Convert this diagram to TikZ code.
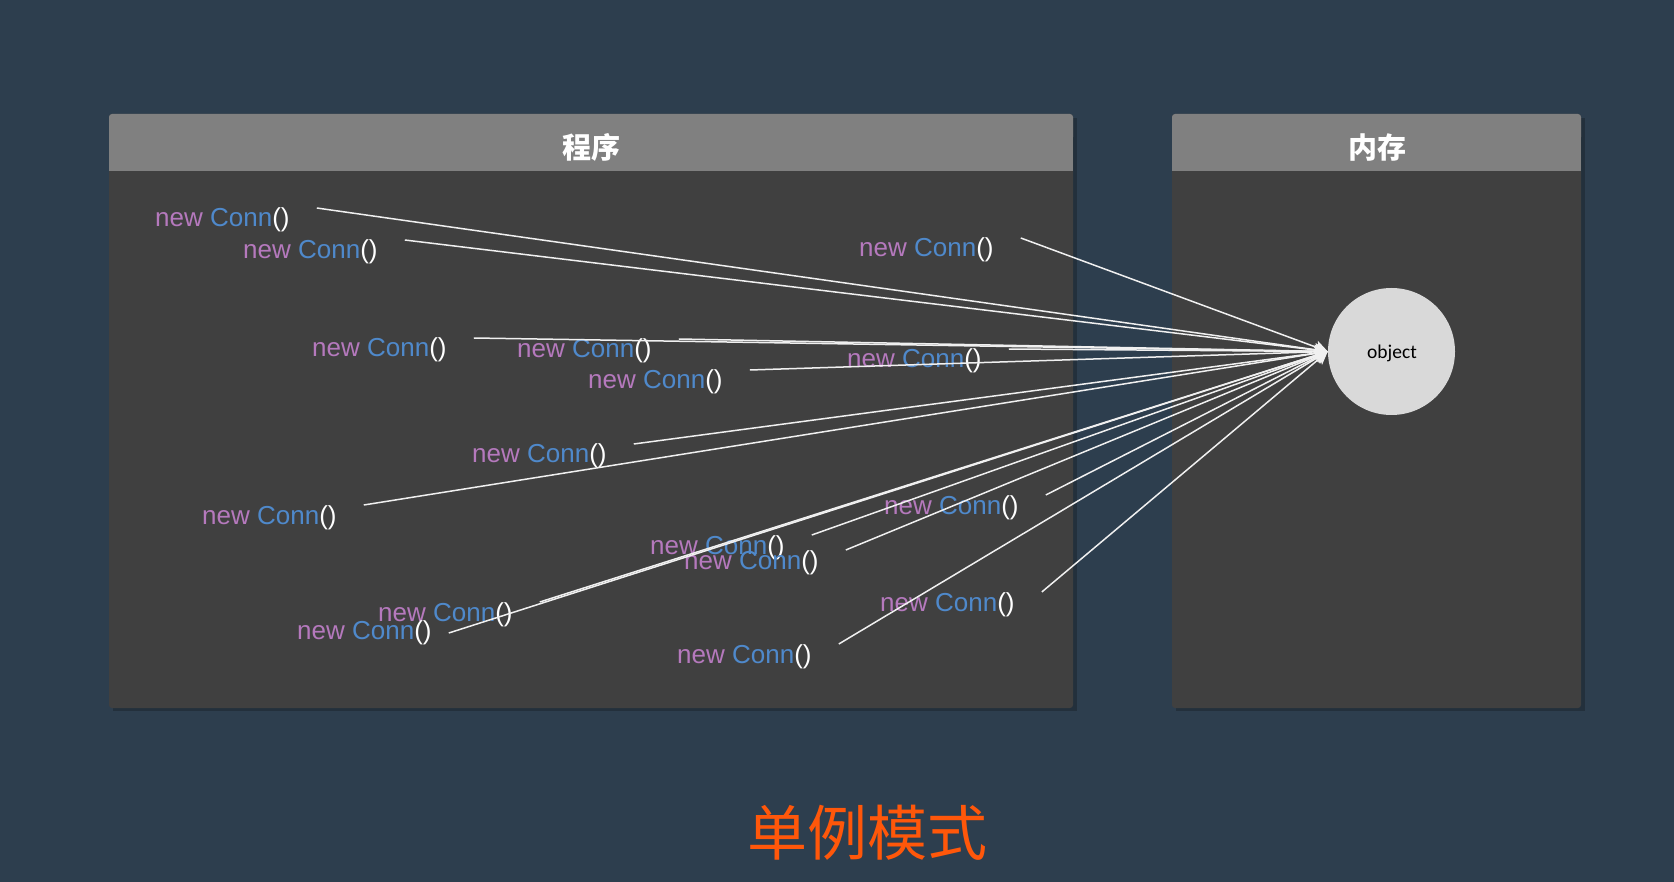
\documentclass[tikz,border=0pt]{standalone}
\usepackage{fontspec}
\setmainfont{Liberation Sans}
\newfontfamily\cjkfont{Noto Sans CJK SC}
\newfontfamily\objfont{Carlito}
\usetikzlibrary{arrows.meta}
\definecolor{bgc}{RGB}{45,62,78}
\definecolor{bodyc}{RGB}{64,64,64}
\definecolor{headc}{RGB}{128,128,128}
\definecolor{newc}{RGB}{181,121,189}
\definecolor{connc}{RGB}{79,137,203}
\definecolor{linec}{RGB}{240,240,240}
\definecolor{objc}{RGB}{217,217,217}
\definecolor{titlec}{RGB}{255,87,10}
\newcommand{\myconn}{\textcolor{newc}{new} \textcolor{connc}{Conn}\textcolor{white}{()}}
\begin{document}
\begin{tikzpicture}[x=1pt,y=-1pt,
  lbl/.style={anchor=base west, inner sep=0pt, font=\fontsize{26}{30}\selectfont},
  conn/.style={draw=linec, line width=1.5pt, -{Stealth[length=13pt,width=13pt,inset=3pt]}},
  head/.style={text=white, inner sep=0pt, font=\cjkfont\bfseries\fontsize{29}{34}\selectfont},
  shadowbox/.style={fill=black, opacity=0.22},
  objnode/.style={circle, fill=objc, minimum size=127pt, inner sep=0pt}]
\useasboundingbox (0,0) rectangle (1674,882);
\fill[bgc] (0,0) rectangle (1674,882);
% panels
\fill[shadowbox] (113,118) rectangle (1077,711);
\fill[bodyc, rounded corners=3pt] (109,114) rectangle (1073,708);
\fill[headc, rounded corners=3pt] (109,114) rectangle (1073,140);
\fill[headc] (109,130) rectangle (1073,171);
\fill[shadowbox] (1176,118) rectangle (1585,711);
\fill[bodyc, rounded corners=3pt] (1172,114) rectangle (1581,708);
\fill[headc, rounded corners=3pt] (1172,114) rectangle (1581,140);
\fill[headc] (1172,130) rectangle (1581,171);
\node[head] (hprog) at (591,147) {程序};
\node[head] (hmem) at (1377,147) {内存};
% object
\node[objnode] (obj) at (1391.5,351.5) {};
\node[anchor=base, inner sep=0pt, text=black, font=\objfont\fontsize{19.5}{22}\selectfont] (objtext) at (1392,359) {object};
% labels
\node[lbl] (l1) at (155,227) {\myconn};
\node[lbl] (l2) at (243,259) {\myconn};
\node[lbl] (l3) at (859,257) {\myconn};
\node[lbl] (l4) at (312,357) {\myconn};
\node[lbl] (l5) at (517,358) {\myconn};
\node[lbl] (l6) at (847,368) {\myconn};
\node[lbl] (l7) at (588,389) {\myconn};
\node[lbl] (l8) at (472,463) {\myconn};
\node[lbl] (l9) at (202,524) {\myconn};
\node[lbl] (l10) at (884,514) {\myconn};
\node[lbl] (l11) at (650,554) {\myconn};
\node[lbl] (l12) at (684,569) {\myconn};
\node[lbl] (l13) at (378,621) {\myconn};
\node[lbl] (l14) at (297,639) {\myconn};
\node[lbl] (l15) at (880,611) {\myconn};
\node[lbl] (l16) at (677,663) {\myconn};
% connector starts
\foreach \i in {1,...,13,15,16}{
  \coordinate (s\i) at ([shift={(27,-19)}]l\i.base east);
}
\coordinate (s14) at ([shift={(17,-6)}]l14.base east);
\foreach \i in {1,...,16}{
  \draw[conn] (s\i) -- (obj.west);
}
% title
\node[text=titlec, font=\cjkfont\fontsize{60}{66}\selectfont] (title) at (867,833) {单例模式};
\end{tikzpicture}
\end{document}
